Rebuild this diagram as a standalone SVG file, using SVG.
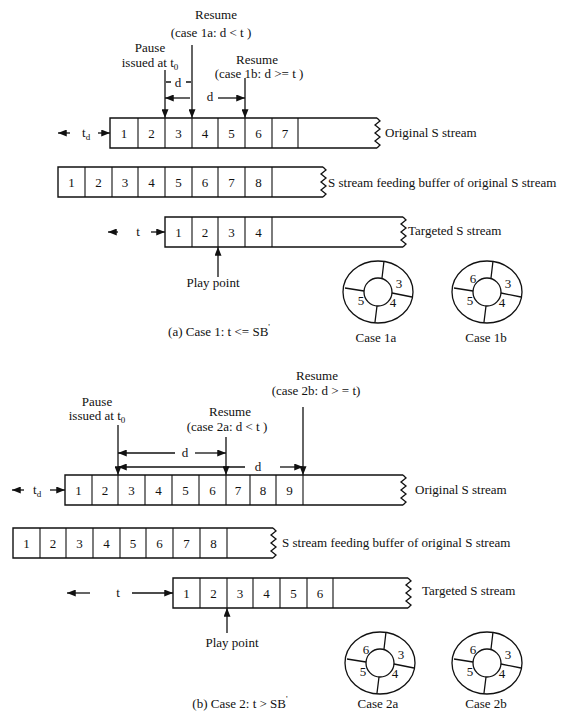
<svg xmlns="http://www.w3.org/2000/svg" xmlns:xlink="http://www.w3.org/1999/xlink" width="567" height="716" viewBox="0 0 567 716">
<style>
text{font-family:"Liberation Serif","Times New Roman",serif;font-size:13px;fill:#111}
.c{text-anchor:middle}
.n{text-anchor:middle;font-size:13px}
.box{fill:none;stroke:#111;stroke-width:1.4}
.div{stroke:#111;stroke-width:1.1}
.ln{stroke:#111;stroke-width:1.3;fill:none}
.ring{fill:#fff;stroke:#111;stroke-width:1.3}
.sub{font-size:9px}
</style>
<defs>
<marker id="ah" viewBox="0 0 10 8" refX="10" refY="4" markerWidth="9" markerHeight="7" markerUnits="userSpaceOnUse" orient="auto"><path d="M0,0L10,4L0,8z" fill="#111"/></marker>
<g id="ringshape"><ellipse class="ring" rx="35" ry="31"/><circle class="ring" r="14"/><path class="ln" d="M4,-14L6,-31M14,1L34,5M-1,14L-3,30M-14,-1L-33,-4"/></g>
</defs>
<rect width="567" height="716" fill="#fff"/>

<!-- ===== Part (a) ===== -->
<g id="a-original">
<path class="box" d="M377,118H110V148H377"/>
<path class="ln" d="M377,118L380,121L375,125L380,129L375,133L380,137L375,141L380,145L377,148"/>
<path class="div" d="M138,118V148M165,118V148M192,118V148M218,118V148M245,118V148M272,118V148M298,118V148"/>
<text class="n" x="124" y="138">1</text><text class="n" x="151.5" y="138">2</text><text class="n" x="178.5" y="138">3</text><text class="n" x="205" y="138">4</text><text class="n" x="231.5" y="138">5</text><text class="n" x="258.5" y="138">6</text><text class="n" x="285" y="138">7</text>
<text x="385" y="137">Original S stream</text>
</g>
<g id="a-feeding">
<path class="box" d="M323,167H58V197H323"/>
<path class="ln" d="M323,167L326,170L321,174L326,178L321,182L326,186L321,190L326,194L323,197"/>
<path class="div" d="M85,167V197M112,167V197M138,167V197M165,167V197M192,167V197M218,167V197M245,167V197M272,167V197"/>
<text class="n" x="71.5" y="187">1</text><text class="n" x="98.5" y="187">2</text><text class="n" x="125" y="187">3</text><text class="n" x="151.5" y="187">4</text><text class="n" x="178.5" y="187">5</text><text class="n" x="205" y="187">6</text><text class="n" x="231.5" y="187">7</text><text class="n" x="258.5" y="187">8</text>
<text x="328" y="187">S stream feeding buffer of original S stream</text>
</g>
<g id="a-targeted">
<path class="box" d="M403,217H165V247H403"/>
<path class="ln" d="M403,217L406,220L401,224L406,228L401,232L406,236L401,240L406,244L403,247"/>
<path class="div" d="M192,217V247M218,217V247M245,217V247M272,217V247"/>
<text class="n" x="178.5" y="237">1</text><text class="n" x="205" y="237">2</text><text class="n" x="231.5" y="237">3</text><text class="n" x="258.5" y="237">4</text>
<text x="408" y="235">Targeted S stream</text>
</g>
<g id="a-labels">
<text class="c" x="216" y="19">Resume</text>
<text class="c" x="211" y="37">(case 1a: d &lt; t )</text>
<text class="c" x="150" y="52">Pause</text>
<text class="c" x="150" y="67">issued at t<tspan class="sub" dy="3">0</tspan></text>
<text class="c" x="257" y="64">Resume</text>
<text class="c" x="259" y="78">(case 1b: d &gt;= t )</text>
<text class="c" x="178" y="87">d</text>
<text class="c" x="210" y="101">d</text>
<text x="82" y="137">t<tspan class="sub" dy="3">d</tspan></text>
<text class="c" x="138" y="236">t</text>
<text class="c" x="213" y="287">Play point</text>
<text class="c" x="219" y="336">(a) Case 1: t &lt;= SB<tspan font-size="9" dy="-6">'</tspan></text>
</g>
<g id="ring-1a">
<use xlink:href="#ringshape" transform="translate(378,292)"/>
<text class="c" x="399" y="288">3</text><text class="c" x="361" y="305">5</text><text class="c" x="393" y="307">4</text>
<text class="c" x="376" y="342">Case 1a</text>
</g>
<g id="ring-1b">
<use xlink:href="#ringshape" transform="translate(487,292)"/>
<text class="c" x="473" y="283">6</text><text class="c" x="508" y="288">3</text><text class="c" x="470" y="305">5</text><text class="c" x="502" y="307">4</text>
<text class="c" x="486" y="342">Case 1b</text>
</g>

<!-- ===== Part (b) ===== -->
<g id="b-original">
<path class="box" d="M403,475H65V505H403"/>
<path class="ln" d="M403,475L406,478L401,482L406,486L401,490L406,494L401,498L406,502L403,505"/>
<path class="div" d="M92,475V505M118,475V505M145,475V505M172,475V505M199,475V505M226,475V505M250,475V505M276,475V505M303,475V505"/>
<text class="n" x="78.5" y="495">1</text><text class="n" x="105" y="495">2</text><text class="n" x="131.5" y="495">3</text><text class="n" x="158.5" y="495">4</text><text class="n" x="185.5" y="495">5</text><text class="n" x="212.5" y="495">6</text><text class="n" x="238" y="495">7</text><text class="n" x="263" y="495">8</text><text class="n" x="289.5" y="495">9</text>
<text x="415" y="494">Original S stream</text>
</g>
<g id="b-feeding">
<path class="box" d="M273,528H13V558H273"/>
<path class="ln" d="M273,528L276,531L271,535L276,539L271,543L276,547L271,551L276,555L273,558"/>
<path class="div" d="M40,528V558M66,528V558M93,528V558M120,528V558M146,528V558M173,528V558M200,528V558M227,528V558"/>
<text class="n" x="26.5" y="548">1</text><text class="n" x="53" y="548">2</text><text class="n" x="79.5" y="548">3</text><text class="n" x="106.5" y="548">4</text><text class="n" x="133" y="548">5</text><text class="n" x="159.5" y="548">6</text><text class="n" x="186.5" y="548">7</text><text class="n" x="213.5" y="548">8</text>
<text x="282" y="547">S stream feeding buffer of original S stream</text>
</g>
<g id="b-targeted">
<path class="box" d="M408,578H173V608H408"/>
<path class="ln" d="M408,578L411,581L406,585L411,589L406,593L411,597L406,601L411,605L408,608"/>
<path class="div" d="M200,578V608M227,578V608M253,578V608M280,578V608M307,578V608M333,578V608"/>
<text class="n" x="186.5" y="598">1</text><text class="n" x="213.5" y="598">2</text><text class="n" x="240" y="598">3</text><text class="n" x="266.5" y="598">4</text><text class="n" x="293.5" y="598">5</text><text class="n" x="320" y="598">6</text>
<text x="422" y="595">Targeted S stream</text>
</g>
<g id="b-labels">
<text class="c" x="97" y="406">Pause</text>
<text class="c" x="97" y="420">issued at t<tspan class="sub" dy="3">0</tspan></text>
<text class="c" x="230" y="416">Resume</text>
<text class="c" x="227" y="431">(case 2a: d &lt; t )</text>
<text class="c" x="317" y="380">Resume</text>
<text class="c" x="316" y="395">(case 2b: d &gt; = t)</text>
<text class="c" x="185" y="457">d</text>
<text class="c" x="258" y="471">d</text>
<text x="33" y="494">t<tspan class="sub" dy="3">d</tspan></text>
<text class="c" x="118" y="597">t</text>
<text class="c" x="232" y="647">Play point</text>
<text class="c" x="240" y="708">(b) Case 2: t &gt; SB<tspan font-size="9" dy="-6">'</tspan></text>
</g>
<g id="ring-2a">
<use xlink:href="#ringshape" transform="translate(380,663)"/>
<text class="c" x="366" y="654">6</text><text class="c" x="401" y="659">3</text><text class="c" x="363" y="676">5</text><text class="c" x="395" y="678">4</text>
<text class="c" x="378" y="708">Case 2a</text>
</g>
<g id="ring-2b">
<use xlink:href="#ringshape" transform="translate(487,663)"/>
<text class="c" x="473" y="654">6</text><text class="c" x="508" y="659">3</text><text class="c" x="470" y="676">5</text><text class="c" x="502" y="678">4</text>
<text class="c" x="486" y="708">Case 2b</text>
</g>

<!-- ===== Connectors ===== -->
<g id="connectors" class="ln" marker-end="url(#ah)">
<!-- part a -->
<path d="M165,70V118"/>
<path d="M192,45V118"/>
<path d="M245,78V118"/>
<path d="M190,98H165"/>
<path d="M218,98H245"/>
<path d="M70,133H58"/>
<path d="M98,133H110"/>
<path d="M118,232H108"/>
<path d="M151,232H165"/>
<path d="M218,277V247"/>
<!-- part b -->
<path d="M118,425V475"/>
<path d="M226,437V475"/>
<path d="M303,407V475"/>
<path d="M175,453H118"/>
<path d="M195,453H226"/>
<path d="M245,467H118"/>
<path d="M280,467H303"/>
<path d="M24,490H12"/>
<path d="M50,490H65"/>
<path d="M90,593H67"/>
<path d="M132,593H173"/>
<path d="M227,633V608"/>
</g>
<g id="d-ticks" class="ln">
<path d="M166,82H171M186,82H191"/>
</g>
</svg>
